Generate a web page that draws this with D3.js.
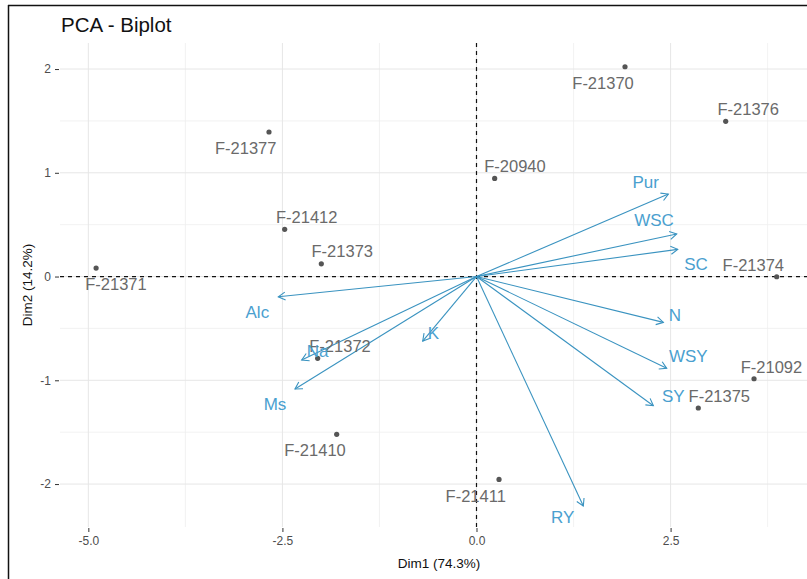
<!DOCTYPE html>
<html>
<head>
<meta charset="utf-8">
<script src="https://cdn.jsdelivr.net/npm/d3@7"></script>
<style>
  html, body { margin: 0; padding: 0; background: #fff; }
  svg { display: block; font-family: "Liberation Sans", Arial, sans-serif; }
</style>
</head>
<body>
<svg id="chart" width="807" height="579"></svg>
<script>
// ---- Data ----
const samples   = ["F-21370","F-21376","F-21377","F-21371","F-20940","F-21412","F-21373","F-21372","F-21374","F-21092","F-21375","F-21410","F-21411"];
const sampleDim1 = [1.913, 3.21, -2.673, -4.90, 0.234, -2.471, -1.999, -2.046, 3.867, 3.575, 2.857, -1.801, 0.290];
const sampleDim2 = [2.022, 1.496, 1.393, 0.082, 0.946, 0.455, 0.123, -0.788, -0.002, -0.985, -1.267, -1.521, -1.955];
const sampleLabelDim1 = [1.63, 3.50, -2.973, -4.644, 0.496, -2.187, -1.729, -1.758, 3.566, 3.80, 3.128, -2.080, -0.010];
const sampleLabelDim2 = [1.865, 1.612, 1.236, -0.072, 1.065, 0.576, 0.246, -0.667, 0.111, -0.869, -1.152, -1.672, -2.113];

const variables = ["Pur","WSC","SC","N","WSY","SY","RY","K","Na","Ms","Alc"];
const varDim1 = [2.471, 2.579, 2.592, 2.407, 2.450, 2.278, 1.376, -0.693, -2.252, -2.338, -2.553];
const varDim2 = [0.795, 0.410, 0.262, -0.442, -0.885, -1.245, -2.212, -0.622, -0.805, -1.084, -0.195];
const varLabelDim1 = [2.179, 2.286, 2.828, 2.557, 2.728, 2.535, 1.110, -0.556, -2.046, -2.596, -2.823];
const varLabelDim2 = [0.914, 0.545, 0.120, -0.371, -0.763, -1.152, -2.315, -0.541, -0.715, -1.229, -0.339];

const xTicks = [-5, -2.5, 0, 2.5];
const xTickLabels = ["-5.0", "-2.5", "0.0", "2.5"];
const xMinor = [-3.75, -1.25, 1.25, 3.75];
const yTicks = [-2, -1, 0, 1, 2];
const yTickLabels = ["-2", "-1", "0", "1", "2"];
const yMinor = [-1.5, -0.5, 0.5, 1.5];

const title = "PCA - Biplot";
const xTitle = "Dim1 (74.3%)";
const yTitle = "Dim2 (14.2%)";

// ---- Layout ----
const panel = { left: 60, right: 826, top: 43, bottom: 527 };
const x = d3.scaleLinear().domain([-5.365, 4.502]).range([panel.left, panel.right]);
const y = d3.scaleLinear().domain([-2.414, 2.251]).range([panel.bottom, panel.top]);

const svg = d3.select("#chart");
const pointColor = "#555555";
const labelColor = "#6a6a6a";
const varColor = "#3a93c0";
const varLabelColor = "#4aa0cf";

// outer frame (left + top visible)
svg.append("line").attr("x1", 8.5).attr("x2", 8.5).attr("y1", 5).attr("y2", 579)
  .attr("stroke", "#111").attr("stroke-width", 1.5);
svg.append("line").attr("x1", 8).attr("x2", 807).attr("y1", 5.5).attr("y2", 5.5)
  .attr("stroke", "#111").attr("stroke-width", 1.5);

// grid
const grid = svg.append("g");
grid.selectAll("line.xmin").data(xMinor).join("line")
  .attr("x1", d => x(d)).attr("x2", d => x(d)).attr("y1", panel.top).attr("y2", panel.bottom)
  .attr("stroke", "#efefef").attr("stroke-width", 0.8);
grid.selectAll("line.ymin").data(yMinor).join("line")
  .attr("y1", d => y(d)).attr("y2", d => y(d)).attr("x1", panel.left).attr("x2", panel.right)
  .attr("stroke", "#efefef").attr("stroke-width", 0.8);
grid.selectAll("line.xmaj").data(xTicks).join("line")
  .attr("x1", d => x(d)).attr("x2", d => x(d)).attr("y1", panel.top).attr("y2", panel.bottom)
  .attr("stroke", "#e6e6e6").attr("stroke-width", 1);
grid.selectAll("line.ymaj").data(yTicks).join("line")
  .attr("y1", d => y(d)).attr("y2", d => y(d)).attr("x1", panel.left).attr("x2", panel.right)
  .attr("stroke", "#e6e6e6").attr("stroke-width", 1);

// axes
const xAxis = d3.axisBottom(x).tickValues(xTicks).tickFormat((d, i) => xTickLabels[i]).tickSize(4).tickPadding(4);
const gx = svg.append("g").attr("transform", `translate(0,${panel.bottom + 1})`).call(xAxis);
gx.select(".domain").remove();
gx.selectAll("line").attr("stroke", "#333");
gx.selectAll("text").attr("fill", "#4d4d4d").style("font-size", "12px").style("font-family", "Liberation Sans, Arial, sans-serif");

const yAxis = d3.axisLeft(y).tickValues(yTicks).tickFormat((d, i) => yTickLabels[i]).tickSize(4).tickPadding(4);
const gy = svg.append("g").attr("transform", `translate(${panel.left - 1},0)`).call(yAxis);
gy.select(".domain").remove();
gy.selectAll("line").attr("stroke", "#333");
gy.selectAll("text").attr("fill", "#4d4d4d").style("font-size", "12px").style("font-family", "Liberation Sans, Arial, sans-serif");

// dashed reference lines
svg.append("line").attr("x1", panel.left).attr("x2", panel.right).attr("y1", y(0)).attr("y2", y(0))
  .attr("stroke", "#111").attr("stroke-width", 1.2).attr("stroke-dasharray", "4,4");
svg.append("line").attr("x1", x(0)).attr("x2", x(0)).attr("y1", panel.top).attr("y2", panel.bottom)
  .attr("stroke", "#111").attr("stroke-width", 1.2).attr("stroke-dasharray", "4,4");

// points
svg.append("g").selectAll("circle").data(samples).join("circle")
  .attr("cx", (d, i) => x(sampleDim1[i])).attr("cy", (d, i) => y(sampleDim2[i]))
  .attr("r", 2.6).attr("fill", pointColor);

// variable arrows
const arrows = svg.append("g").attr("fill", "none").attr("stroke", varColor).attr("stroke-width", 1.1);
variables.forEach((v, i) => {
  const x0 = x(0), y0 = y(0), x1 = x(varDim1[i]), y1 = y(varDim2[i]);
  const ang = Math.atan2(y1 - y0, x1 - x0);
  const L = 8, a = Math.PI / 6;
  const h1 = [x1 - L * Math.cos(ang - a), y1 - L * Math.sin(ang - a)];
  const h2 = [x1 - L * Math.cos(ang + a), y1 - L * Math.sin(ang + a)];
  arrows.append("path").attr("d", `M${x0},${y0}L${x1},${y1}`);
  arrows.append("path").attr("d", `M${h1[0]},${h1[1]}L${x1},${y1}L${h2[0]},${h2[1]}`);
});

// sample labels
svg.append("g").selectAll("text").data(samples).join("text")
  .attr("x", (d, i) => x(sampleLabelDim1[i])).attr("y", (d, i) => y(sampleLabelDim2[i]))
  .attr("dy", "0.36em").attr("text-anchor", "middle")
  .attr("fill", labelColor).style("font-size", "16.5px").text(d => d);

// variable labels
svg.append("g").selectAll("text").data(variables).join("text")
  .attr("x", (d, i) => x(varLabelDim1[i])).attr("y", (d, i) => y(varLabelDim2[i]))
  .attr("dy", "0.36em").attr("text-anchor", "middle")
  .attr("fill", varLabelColor).style("font-size", "17px").text(d => d);

// titles
svg.append("text").attr("x", 61).attr("y", 32).attr("fill", "#111").style("font-size", "20.5px").text(title);
svg.append("text").attr("x", (panel.left + panel.right) / 2 - 4).attr("y", 568).attr("text-anchor", "middle")
  .attr("fill", "#111").style("font-size", "13.5px").text(xTitle);
svg.append("text").attr("transform", `translate(27,${(panel.top + panel.bottom) / 2}) rotate(-90)`)
  .attr("dy", "0.35em").attr("text-anchor", "middle")
  .attr("fill", "#111").style("font-size", "13.5px").text(yTitle);
</script>
</body>
</html>
